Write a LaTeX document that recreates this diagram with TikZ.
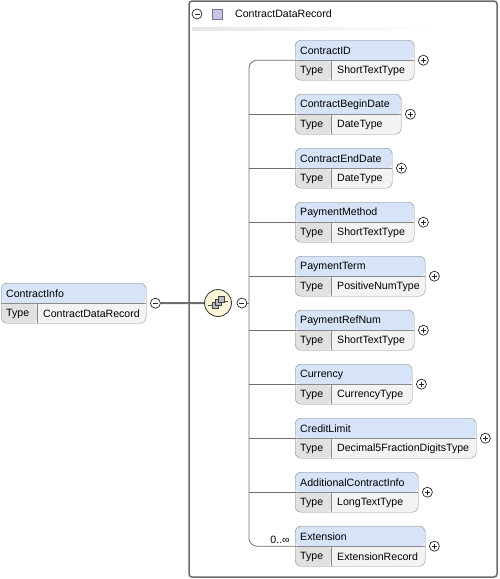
\documentclass[tikz,border=0pt]{standalone}
\usepackage{fontspec}
\setmainfont{Liberation Sans}
\usetikzlibrary{calc}
\definecolor{hdrblue}{HTML}{D7E3F7}
\definecolor{typegray}{HTML}{E1E1E1}
\definecolor{valgray}{HTML}{F3F3F3}
\definecolor{boxline}{HTML}{8A8A8A}
\definecolor{seqfill}{HTML}{FAF5D6}
\definecolor{lilac}{HTML}{CBC2E8}
\definecolor{linkgray}{HTML}{6E6E6E}

\newcommand\elem[6]{%
  \node[elem, minimum width=#4pt] (#1) at (#2,#3) {};
  \draw[boxline] (#1.west) -- (#1.east);
  \draw[boxline] ([xshift=36pt]#1.south west) -- ([xshift=36pt]#1.west);
  \node[lbl] at ([xshift=5pt,yshift=9pt]#1.west) {#5};
  \node[lbl] at ([xshift=5pt,yshift=-11pt]#1.west) {Type};
  \node[lbl] at ([xshift=42pt,yshift=-11pt]#1.west) {#6};
}

\begin{document}
\begin{tikzpicture}
[
    x=1pt, y=-1pt,
    font=\fontsize{10.6}{12}\selectfont,
    lbl/.style={anchor=west, inner sep=0pt},
    elem/.style={draw=boxline, rounded corners=6pt, minimum height=40pt, inner sep=0pt, anchor=north west,
        path picture={
            \fill[valgray] (path picture bounding box.south west) rectangle (path picture bounding box.north east);
            \fill[hdrblue] (path picture bounding box.north west) rectangle (path picture bounding box.east);
            \fill[typegray] (path picture bounding box.south west) rectangle ([xshift=36pt]path picture bounding box.west);
        }},
    plusc/.style={circle, draw=black!85, fill=white, minimum size=10pt, inner sep=0pt, line width=0.7pt,
        path picture={
            \draw[line width=0.7pt] ([xshift=-2.5pt]path picture bounding box.center) -- ([xshift=2.5pt]path picture bounding box.center);
            \draw[line width=0.7pt] ([yshift=-2.5pt]path picture bounding box.center) -- ([yshift=2.5pt]path picture bounding box.center);
        }},
    minusc/.style={circle, draw=black!85, fill=white, minimum size=10pt, inner sep=0pt, line width=0.7pt,
        path picture={
            \draw[line width=0.7pt] ([xshift=-2.5pt]path picture bounding box.center) -- ([xshift=2.5pt]path picture bounding box.center);
        }},
    conn/.style={draw=linkgray, line width=0.8pt},
    link/.style={draw=linkgray, line width=2pt},
    outer/.style={draw=gray!85!black, line width=1.5pt, rounded corners=3pt},
]
\useasboundingbox (0,0) rectangle (500,579);

\draw[outer] (189,1) rectangle (497,577);
\node[minusc] (grpm) at (197,14) {};
\node[draw=lilac!60!black, fill=lilac, minimum size=10pt, inner sep=0pt] (grpicon) at (217,14) {};
\node[lbl] (grpname) at (235,14) {ContractDataRecord};
\shade[left color=gray!20, middle color=gray!80, right color=white] (192,27) rectangle (430,30);

\elem{info}{1}{283}{145}{ContractInfo}{ContractDataRecord}
\node[minusc] (infom) at ([xshift=9pt]info.east) {};

\node[circle, draw=black!80, fill=seqfill, minimum size=27pt, inner sep=0pt, line width=0.8pt] (seq) at (218,303) {};
\draw[black!70, line width=0.6pt] ($(seq.center)+(-10,2)$) -- ($(seq.center)+(-5,2)$);
\draw[black!70, line width=0.6pt] ($(seq.center)+(5,-2)$) -- ($(seq.center)+(10,-2)$);
\foreach \k in {0,1,2}
    \filldraw[fill=gray!55, draw=black!75, line width=0.5pt] ($(seq.center)+(-6+3*\k,5-3*\k)$) rectangle ++(6,-6);
\node[minusc] (seqm) at ([xshift=10pt]seq.east) {};
\coordinate (spine) at (249,303);

\draw[link] (infom) -- (seq);
\draw[conn] (seqm) -- (seqm -| spine);

\foreach \w/\nm/\ty [count=\i] in {
    119/ContractID/ShortTextType,
    106/ContractBeginDate/DateType,
    97/ContractEndDate/DateType,
    119/PaymentMethod/ShortTextType,
    130/PaymentTerm/PositiveNumType,
    119/PaymentRefNum/ShortTextType,
    117/Currency/CurrencyType,
    181/CreditLimit/Decimal5FractionDigitsType,
    123/AdditionalContractInfo/LongTextType,
    130/Extension/ExtensionRecord}
{
    \pgfmathsetmacro\yy{40+54*(\i-1)}
    \elem{e\i}{295}{\yy}{\w}{\nm}{\ty}
    \node[plusc] (e\i p) at ([xshift=9pt]e\i.east) {};
}

\draw[conn, rounded corners=8pt] (e1.west) -| (spine |- e10.west) -- (e10.west);
\foreach \i in {2,...,9}
    \draw[conn] (e\i.west) -- (e\i.west -| spine);

\node[lbl, anchor=east] (e10occ) at ([xshift=-5pt,yshift=6pt]e10.west) {0..∞};
\end{tikzpicture}
\end{document}
